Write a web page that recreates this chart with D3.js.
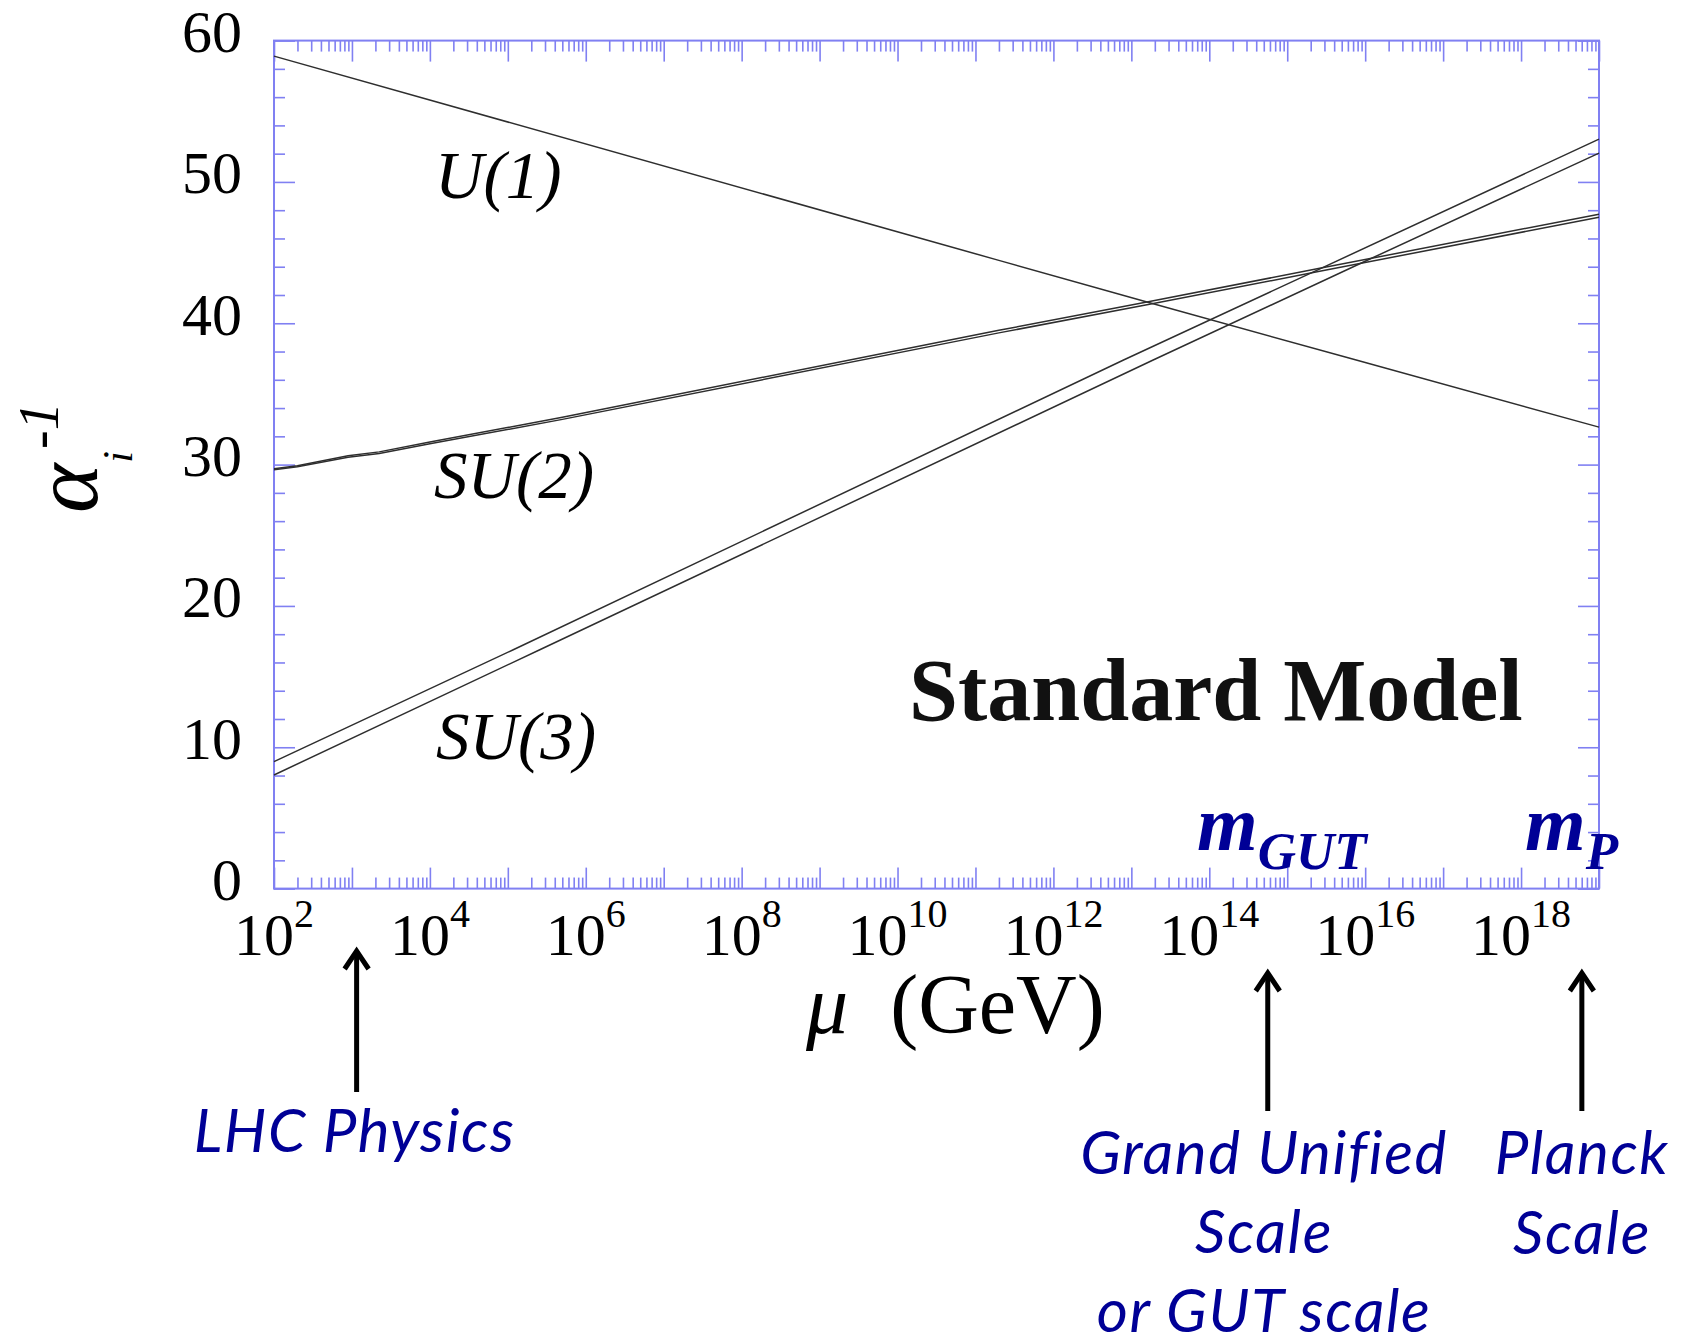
<!DOCTYPE html>
<html><head><meta charset="utf-8">
<script src="https://cdn.jsdelivr.net/npm/d3@7"></script>
<style>html,body{margin:0;padding:0;background:#fff;} svg{display:block}</style>
</head><body>
<svg id="chart" width="1686" height="1339"></svg>
<script>
// ---------- data ----------
// x values are log10(mu / GeV); y values are alpha_i^-1
const xDomainExp = [2, 19];
const xLabelExponents = [2, 4, 6, 8, 10, 12, 14, 16, 18];
const yTickValues = [0, 10, 20, 30, 40, 50, 60];

const u1Line = [[2, 58.9], [11.3, 44.45], [13.2, 41.5], [15.85, 37.45], [19, 32.65]];
const su2Upper = [[2, 29.7], [2.3, 29.92], [2.95, 30.62], [3.35, 30.9], [4, 31.6], [5.7, 33.35], [11.3, 39.5], [13.2, 41.5], [15.4, 43.87], [19, 47.72]];
const su2Lower = [[2, 29.64], [2.3, 29.85], [2.95, 30.52], [3.35, 30.78], [4, 31.47], [5.7, 33.2], [11.3, 39.32], [13.2, 41.31], [15.4, 43.66], [19, 47.5]];
const su3Upper = [[2, 8.98], [5.07, 16.9], [12.9, 37.4], [15.42, 43.85], [19, 53.03]];
const su3Lower = [[2, 8.04], [5.41, 16.9], [13.28, 37.4], [16.02, 44.44], [19, 52.04]];
const allLines = [u1Line, su2Upper, su2Lower, su3Upper, su3Lower];

const curveLabels = ["U(1)", "SU(2)", "SU(3)"];
const modelTitle = "Standard Model";
const arrowExponents = [3.06, 14.75, 18.78];   // LHC, GUT, Planck
const scaleMarks = [{m: "m", sub: "GUT"}, {m: "m", sub: "P"}];
const lhcText = ["LHC Physics"];
const gutText = ["Grand Unified", "Scale", "or GUT scale"];
const planckText = ["Planck", "Scale"];

// ---------- layout ----------
const L = 274, R = 1599, T = 40.6, B = 888.6;
const axisColor = "#8080f2";
const blue = "#000096";
const serif = "'Liberation Serif','Times New Roman',Times,serif";
const sans = "Lato,'Open Sans','Noto Sans',sans-serif";

const svg = d3.select("#chart");
const x = d3.scaleLog().domain(xDomainExp.map(e => Math.pow(10, e))).range([L, R]);
const y = d3.scaleLinear().domain([0, 60]).range([B, T]);

// ticks
const majorX = d3.range(xDomainExp[0], xDomainExp[1] + 1).map(e => Math.pow(10, e));
const minorX = [];
d3.range(xDomainExp[0], xDomainExp[1]).forEach(e => { for (let k = 2; k <= 9; k++) minorX.push(k * Math.pow(10, e)); });
const majorY = yTickValues;
const minorY = d3.range(0, 61, 2).filter(v => v % 10 !== 0);

function drawAxis(gen, tx, ty, vals, size) {
  const g = svg.append("g").attr("transform", `translate(${tx},${ty})`)
    .call(gen.tickValues(vals).tickSize(size).tickFormat(""));
  g.select(".domain").remove();
  g.selectAll("line").attr("stroke", axisColor).attr("stroke-width", 1.6);
}
drawAxis(d3.axisTop(x), 0, B, majorX, 21);
drawAxis(d3.axisTop(x), 0, B, minorX, 11);
drawAxis(d3.axisBottom(x), 0, T, majorX, 21);
drawAxis(d3.axisBottom(x), 0, T, minorX, 11);
drawAxis(d3.axisRight(y), L, 0, majorY, 21);
drawAxis(d3.axisRight(y), L, 0, minorY, 11);
drawAxis(d3.axisLeft(y), R, 0, majorY, 21);
drawAxis(d3.axisLeft(y), R, 0, minorY, 11);

svg.append("rect").attr("x", L).attr("y", T).attr("width", R - L).attr("height", B - T)
  .attr("fill", "none").attr("stroke", axisColor).attr("stroke-width", 2);

// curves
const line = d3.line().x(d => x(Math.pow(10, d[0]))).y(d => y(d[1]));
svg.append("g").selectAll("path").data(allLines).join("path")
  .attr("d", line).attr("fill", "none").attr("stroke", "#2e2e2e").attr("stroke-width", 1.5);

// y tick labels
svg.append("g").selectAll("text").data(yTickValues).join("text")
  .attr("x", 242).attr("y", d => y(d) + 11.5)
  .attr("text-anchor", "end").attr("font-family", serif).attr("font-size", 60).attr("fill", "#000")
  .text(d => d);

// x tick labels
const xl = svg.append("g").selectAll("text").data(xLabelExponents).join("text")
  .attr("x", d => x(Math.pow(10, d))).attr("y", B + 66.5)
  .attr("text-anchor", "middle").attr("font-family", serif).attr("font-size", 60).attr("fill", "#000");
xl.append("tspan").text("10");
xl.append("tspan").attr("dy", -28).attr("font-size", 40).text(d => d);

// axis titles
const xt = svg.append("text").attr("x", 806).attr("y", 1033)
  .attr("font-family", serif).attr("font-size", 84).attr("fill", "#000");
xt.append("tspan").attr("font-style", "italic").text("μ");
xt.append("tspan").text("\u00a0\u00a0(GeV)");

const yt = svg.append("text").attr("transform", "translate(97,513) rotate(-90)")
  .attr("font-family", serif).attr("fill", "#000").attr("font-style", "italic");
yt.append("tspan").attr("font-size", 94).text("α");
yt.append("tspan").attr("font-size", 42).attr("dy", 35).attr("dx", 1).text("i");
yt.append("tspan").attr("font-size", 56).attr("dy", -74).attr("dx", 2).text("-1");

// curve labels
const labelPos = [[435, 198], [434, 498], [436, 759]];
svg.append("g").selectAll("text").data(curveLabels).join("text")
  .attr("x", (d, i) => labelPos[i][0]).attr("y", (d, i) => labelPos[i][1])
  .attr("font-family", serif).attr("font-style", "italic").attr("font-size", 67).attr("fill", "#000")
  .text(d => d);

svg.append("text").attr("x", 909).attr("y", 720)
  .attr("font-family", serif).attr("font-weight", "bold").attr("font-size", 88).attr("fill", "#111")
  .text(modelTitle);

// m_GUT, m_P
const markX = [1197, 1525];
scaleMarks.forEach((s, i) => {
  const t = svg.append("text").attr("x", markX[i]).attr("y", 850)
    .attr("font-family", serif).attr("font-weight", "bold").attr("font-style", "italic").attr("fill", blue);
  t.append("tspan").attr("font-size", 78).text(s.m);
  t.append("tspan").attr("font-size", 53).attr("dy", 19).text(s.sub);
});

// arrows
const arrowTop = [948, 970, 970];
const arrowBottom = [1092, 1111, 1111];
arrowExponents.forEach((e, i) => {
  const ax = x(Math.pow(10, e));
  const g = svg.append("g").attr("stroke", "#000").attr("fill", "none").attr("stroke-width", 5);
  g.append("line").attr("x1", ax).attr("x2", ax).attr("y1", arrowTop[i] + 3).attr("y2", arrowBottom[i]);
  g.append("path").attr("d", `M${ax - 12},${arrowTop[i] + 21} L${ax},${arrowTop[i] + 3} L${ax + 12},${arrowTop[i] + 21}`)
    .attr("stroke-linejoin", "miter").attr("stroke-linecap", "butt");
});

// blue annotations
function blueLines(lines, cx, y0, dy) {
  svg.append("g").selectAll("text").data(lines).join("text")
    .attr("x", cx).attr("y", (d, i) => y0 + i * dy)
    .attr("text-anchor", "middle").attr("font-family", sans).attr("font-style", "italic")
    .attr("font-size", 60).attr("letter-spacing", 1.6).attr("fill", blue).text(d => d);
}
blueLines(lhcText, x(Math.pow(10, arrowExponents[0])) - 2, 1152, 80);
blueLines(gutText, 1264, 1174, 79);
blueLines(planckText, 1582, 1174, 80);
</script>
</body></html>
